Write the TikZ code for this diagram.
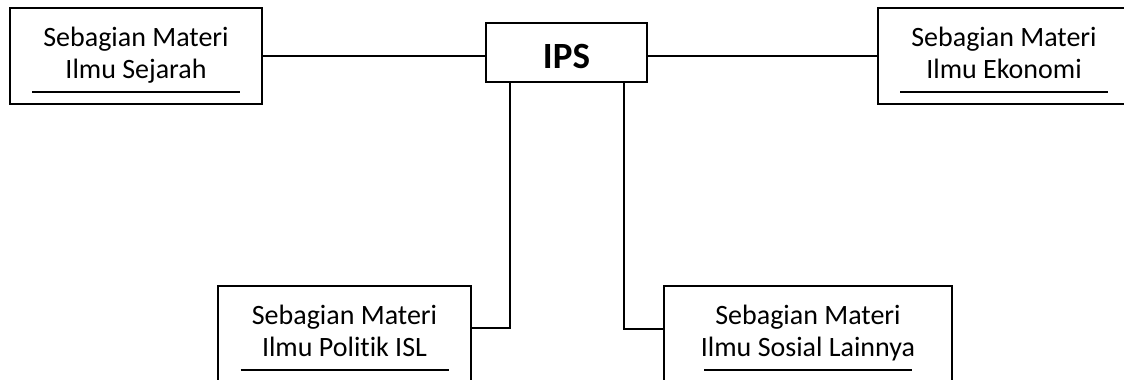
\documentclass[tikz,border=0pt]{standalone}
\usepackage{fontspec}
\setmainfont{Carlito}[Ligatures=NoCommon]
\usetikzlibrary{calc}
\tikzset{
  box/.style={draw, line width=1.8pt, inner sep=0pt, minimum height=96pt},
  linetxt/.style={inner sep=0pt, anchor=base, font=\fontsize{28pt}{32pt}\selectfont},
  headtxt/.style={inner sep=0pt, anchor=base, font=\fontsize{37pt}{42pt}\selectfont\bfseries},
  uline/.style={line width=1.3pt},
  link/.style={line width=1.8pt},
}
\begin{document}
\begin{tikzpicture}[x=1pt,y=-1pt]
\useasboundingbox (0,0) rectangle (1124,380);
\clip (0,0) rectangle (1124,380);
\fill[white] (0,0) rectangle (1124,380);

% boxes
\node[box, minimum width=252pt] (sej) at (136,56) {};
\node[box, minimum width=161pt, minimum height=59pt] (ips) at (566.5,52.5) {};
\node[box, minimum width=252pt] (eko) at (1004,56) {};
\node[box, minimum width=253pt] (pol) at (344.5,334) {};
\node[box, minimum width=288pt] (sos) at (808,334) {};

% texts
\node[headtxt] (ipsT) at ($(ips.north)+(0,46.5)$) {IPS};
\node[linetxt] (sej1) at ($(sej.north)+(0,39.5)$) {Sebagian Materi};
\node[linetxt] (sej2) at ($(sej.north)+(0,71)$) {Ilmu Sejarah};
\node[linetxt] (eko1) at ($(eko.north)+(0,39.5)$) {Sebagian Materi};
\node[linetxt] (eko2) at ($(eko.north)+(0,71)$) {Ilmu Ekonomi};
\node[linetxt] (pol1) at ($(pol.north)+(0,39.5)$) {Sebagian Materi};
\node[linetxt] (pol2) at ($(pol.north)+(0,71)$) {Ilmu Politik ISL};
\node[linetxt] (sos1) at ($(sos.north)+(0,39.5)$) {Sebagian Materi};
\node[linetxt] (sos2) at ($(sos.north)+(0,71)$) {Ilmu Sosial Lainnya};

% underlines below the text
\foreach \b in {sej,eko,pol,sos}
  \draw[uline] ($(\b.north)+(-104,85)$) -- ($(\b.north)+(104,85)$);

% connectors
\draw[link] (sej.east) -- (sej.east -| ips.west);
\draw[link] (eko.west -| ips.east) -- (eko.west);
\draw[link] ($(ips.south west)+(25,0)$) |- ($(pol.east)+(0,-6)$);
\draw[link] ($(ips.south east)+(-24,0)$) |- ($(sos.west)+(0,-5)$);
\end{tikzpicture}
\end{document}
